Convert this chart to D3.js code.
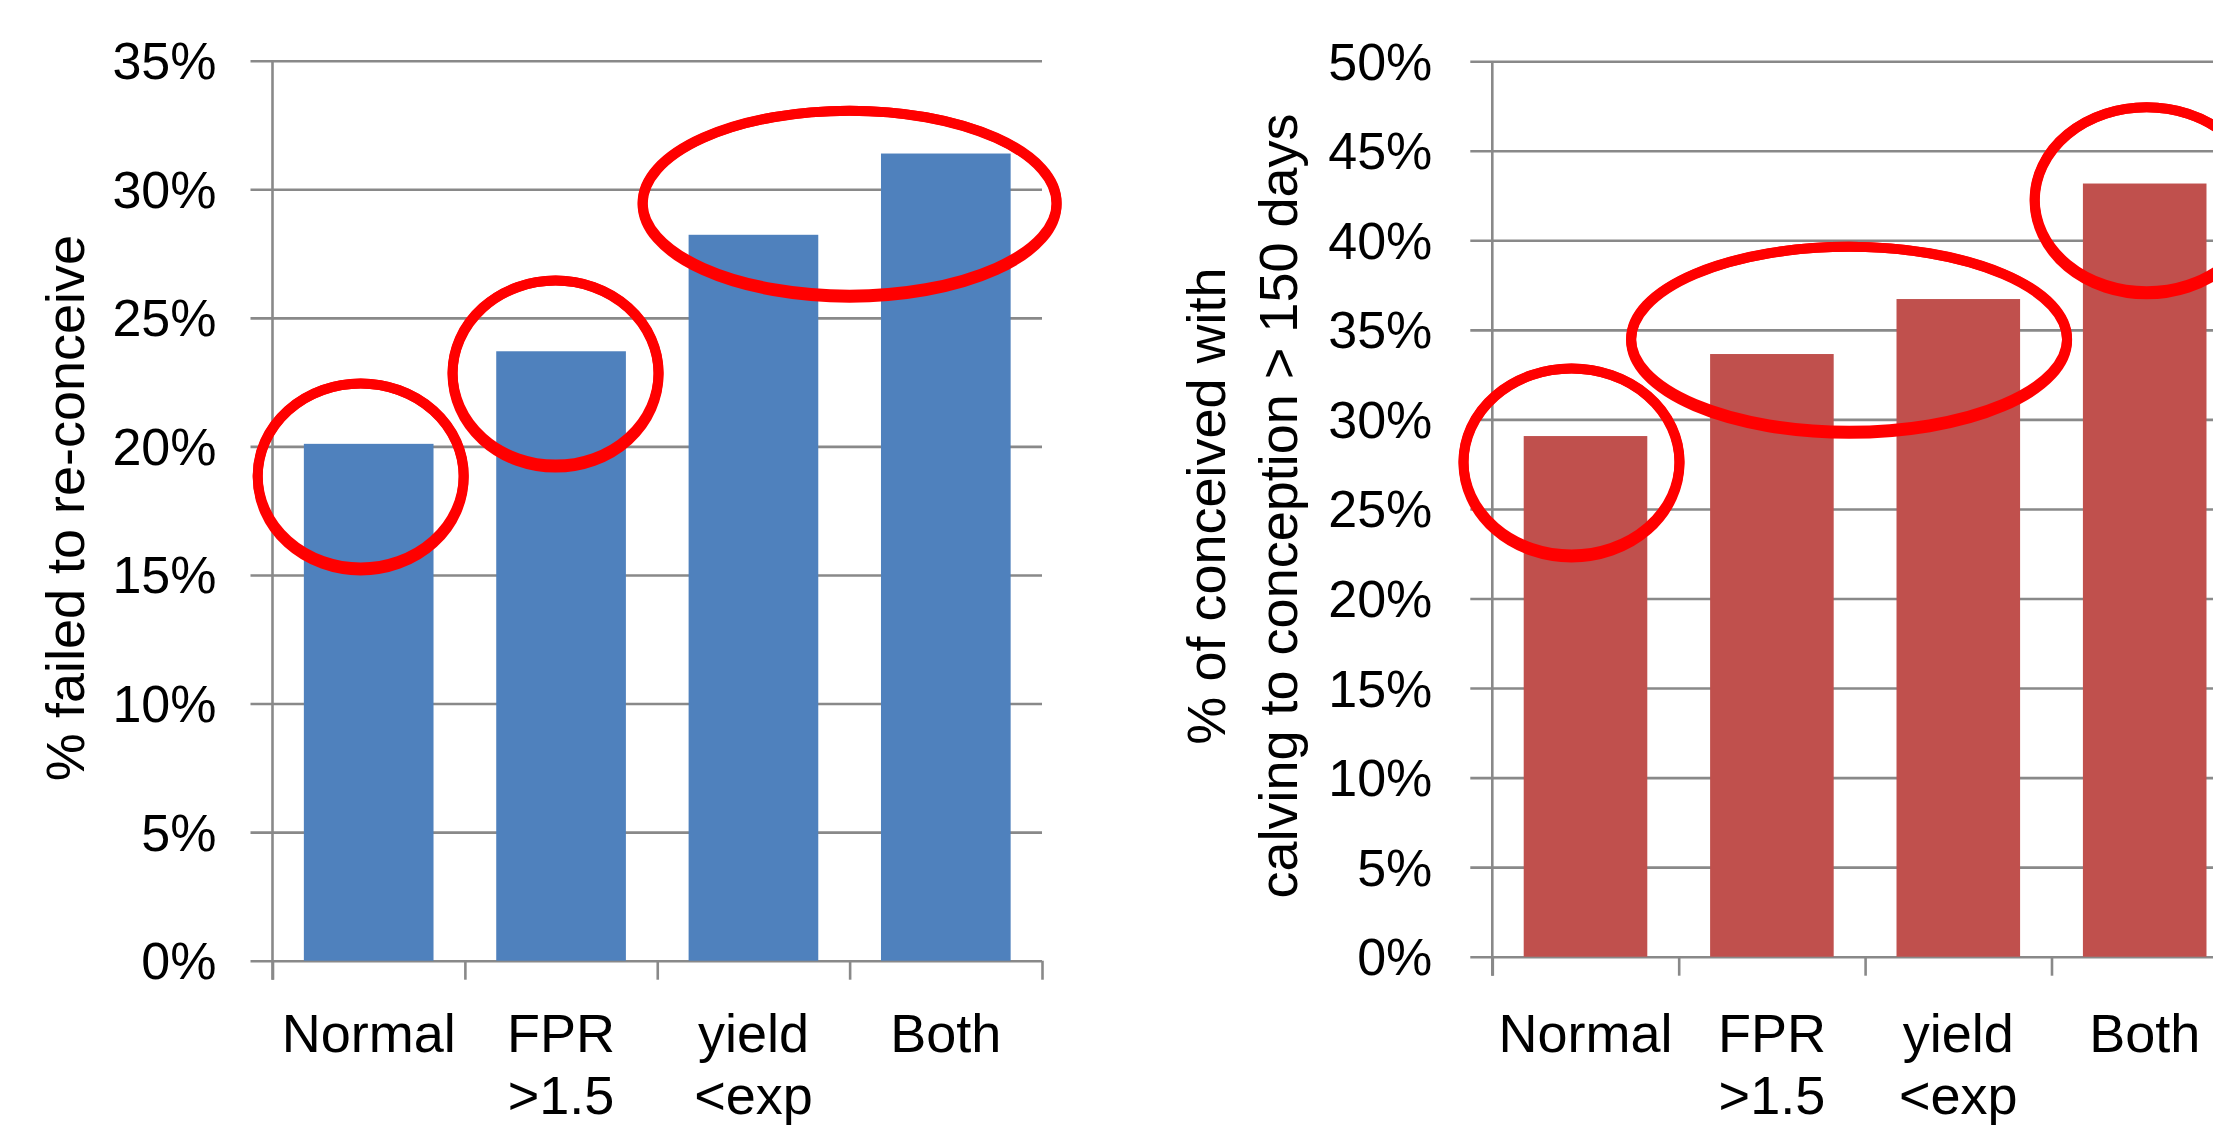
<!DOCTYPE html>
<html>
<head>
<meta charset="utf-8">
<script src="https://cdn.jsdelivr.net/npm/d3@7"></script>
<style>
  html, body { margin: 0; padding: 0; background: #fff; }
  svg { display: block; }
  text { font-family: "Liberation Sans", Arial, sans-serif; fill: #000; }
</style>
</head>
<body>
<svg id="chart" width="2213" height="1128"></svg>
<script>
// Cow groups compared in both panels (a space splits a label onto two lines)
const categories = ["Normal", "FPR >1.5", "yield <exp", "Both"];

// Left panel: share of cows that failed to re-conceive
const failedToReconceive = [0.201, 0.237, 0.2823, 0.3139];
const failedTicks = [0, 0.05, 0.10, 0.15, 0.20, 0.25, 0.30, 0.35];
const failedTitle = ["% failed to re-conceive"];

// Right panel: share of conceived cows with calving-to-conception > 150 days
const longInterval = [0.2907, 0.3365, 0.3672, 0.4317];
const longTicks = [0, 0.05, 0.10, 0.15, 0.20, 0.25, 0.30, 0.35, 0.40, 0.45, 0.50];
const longTitle = ["% of conceived with", "calving to conception > 150 days"];

// Groups circled in red on each panel, centred on a value in data units
const failedHighlights = [
  { groups: ["Normal"], value: 0.1887 },
  { groups: ["FPR >1.5"], value: 0.2287 },
  { groups: ["yield <exp", "Both"], value: 0.2948 }
];
const longHighlights = [
  { groups: ["Normal"], value: 0.2765 },
  { groups: ["FPR >1.5", "yield <exp"], value: 0.345 },
  { groups: ["Both"], value: 0.4229 }
];

const svg = d3.select("#chart");
svg.append("rect").attr("width", 2213).attr("height", 1128).attr("fill", "#fff");

const GRID = "#898989";
const pct = d3.format(".0%");

function drawPanel(cfg) {
  const g = svg.append("g");

  const x = d3.scaleBand()
    .domain(categories)
    .range([cfg.left, cfg.right])
    .paddingInner(cfg.pad)
    .paddingOuter(cfg.pad / 2);

  const y = d3.scaleLinear()
    .domain([0, cfg.max])
    .range([cfg.bottom, cfg.top]);

  const plotW = cfg.right - cfg.left;

  // value axis: gridlines, outside tick stubs and percentage labels
  const yAxis = g.append("g")
    .attr("transform", `translate(${cfg.left},0)`)
    .call(d3.axisLeft(y).tickValues(cfg.ticks).tickFormat(pct).tickSizeInner(-plotW).tickSizeOuter(0));
  yAxis.select(".domain").remove();
  yAxis.selectAll(".tick line")
    .attr("x1", -22).attr("x2", plotW)
    .attr("stroke", GRID).attr("stroke-width", 2.6);
  yAxis.selectAll(".tick text")
    .attr("x", -cfg.labelGap).attr("dy", null).attr("y", 18)
    .attr("text-anchor", "end")
    .style("font-size", "52px").style("font-family", "'Liberation Sans', Arial, sans-serif")
    .attr("fill", "#000");

  // bars
  g.append("g").selectAll("rect")
    .data(cfg.values.map((v, i) => ({ cat: categories[i], v })))
    .join("rect")
    .attr("x", d => x(d.cat))
    .attr("width", x.bandwidth())
    .attr("y", d => y(d.v))
    .attr("height", d => y(0) - y(d.v))
    .attr("fill", cfg.color);

  // vertical axis line, running down to the category tick marks
  g.append("line")
    .attr("x1", cfg.left).attr("x2", cfg.left)
    .attr("y1", y(cfg.max)).attr("y2", y(0) + 19)
    .attr("stroke", GRID).attr("stroke-width", 2.6);

  // category boundary tick marks below the baseline
  const boundary = d3.scaleLinear().domain([0, categories.length]).range([cfg.left, cfg.right]);
  const xAxis = g.append("g")
    .attr("transform", `translate(0,${y(0)})`)
    .call(d3.axisBottom(boundary).tickValues(d3.range(categories.length + 1)).tickFormat("").tickSize(19).tickSizeOuter(0));
  xAxis.select(".domain").remove();
  xAxis.selectAll(".tick line").attr("stroke", GRID).attr("stroke-width", 2.6);

  // category labels, one or two lines
  const lab = g.append("g").selectAll("text")
    .data(categories)
    .join("text")
    .attr("x", d => x(d) + x.bandwidth() / 2)
    .attr("y", 1052)
    .attr("text-anchor", "middle")
    .style("font-size", "54px");
  lab.selectAll("tspan")
    .data(d => d.split(" ").map((t, i) => ({ t, i, cx: x(d) + x.bandwidth() / 2 })))
    .join("tspan")
    .attr("x", d => d.cx)
    .attr("dy", d => d.i === 0 ? 0 : 62)
    .text(d => d.t);

  // rotated axis title
  cfg.title.forEach((line, i) => {
    const bx = cfg.titleX[i];
    g.append("text")
      .attr("transform", `translate(${bx},${cfg.titleY}) rotate(-90)`)
      .attr("text-anchor", "middle")
      .style("font-size", "54px")
      .text(line);
  });

  // red highlight rings
  cfg.highlights.forEach((h, k) => {
    const s = cfg.rings[k];
    const centers = h.groups.map(c => x(c) + x.bandwidth() / 2);
    const cx = d3.mean(centers) + s.dx;
    const cy = y(h.value);
    g.append("ellipse")
      .attr("cx", cx).attr("cy", cy)
      .attr("rx", s.rx).attr("ry", s.ry)
      .attr("fill", "none")
      .attr("stroke", "#ff0000")
      .attr("stroke-width", 10);
    // slightly heavier lower edge, as from a pen stroke
    g.append("ellipse")
      .attr("cx", cx).attr("cy", cy + 1.5)
      .attr("rx", s.rx).attr("ry", s.ry + 1.5)
      .attr("fill", "none")
      .attr("stroke", "#ff0000")
      .attr("stroke-width", 10);
  });
}

drawPanel({
  left: 272.5, right: 1042, top: 60.7, bottom: 960.7, pad: 0.326,
  max: 0.35, ticks: failedTicks, values: failedToReconceive, color: "#4F81BD",
  labelGap: 56, title: failedTitle, titleX: [84], titleY: 508,
  highlights: failedHighlights,
  rings: [{ dx: -8, rx: 103, ry: 92 }, { dx: -5.5, rx: 103, ry: 92 }, { dx: 0, rx: 207, ry: 92 }]
});

drawPanel({
  left: 1492.3, right: 2237.9, top: 61.2, bottom: 956.7, pad: 0.337,
  max: 0.5, ticks: longTicks, values: longInterval, color: "#C0504D",
  labelGap: 60, title: longTitle, titleX: [1225, 1297], titleY: 506,
  highlights: longHighlights,
  rings: [{ dx: -14, rx: 108, ry: 93 }, { dx: -16, rx: 218, ry: 92 }, { dx: 2, rx: 112, ry: 92 }]
});
</script>
</body>
</html>
